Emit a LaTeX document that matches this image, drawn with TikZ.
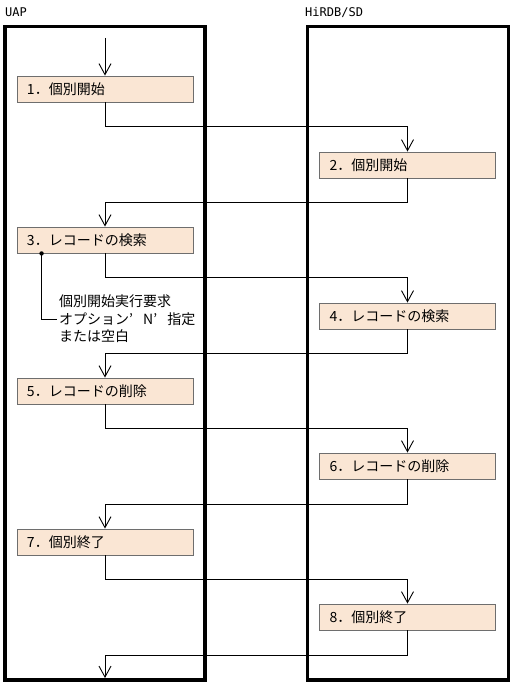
\documentclass[tikz,border=0pt]{standalone}
\usepackage{fontspec}
\newfontfamily\jp{Noto Sans CJK JP}
\newfontfamily\lbl{DejaVu Sans Mono}
\usetikzlibrary{arrows.meta}
\definecolor{boxfill}{RGB}{250,230,212}
\definecolor{boxline}{RGB}{110,110,110}
\newcommand{\wq}{\makebox[14pt][l]{’}}
\begin{document}
\begin{tikzpicture}[x=1pt,y=-1pt,
  panel/.style={draw=black,line width=3.5pt,inner sep=0pt},
  stepbox/.style={draw=boxline,fill=boxfill,line width=0.9pt,minimum width=176pt,minimum height=26pt,inner xsep=10pt,inner ysep=0pt,text width=156pt,align=left,font=\jp\fontsize{14pt}{16pt}\selectfont},
  conn/.style={line width=0.9pt,-{Straight Barb[length=11pt,width=12pt]}},
  plain/.style={line width=0.9pt},
  lab/.style={font=\lbl\fontsize{12pt}{14pt}\selectfont,inner sep=0pt,anchor=west},
  note/.style={font=\jp\fontsize{14pt}{17.5pt}\selectfont,align=left,inner sep=0pt,anchor=west}]
\useasboundingbox (0,0) rectangle (513,685);
\node[lab] (luap) at (5,12) {UAP};
\node[lab] (lsd) at (305,12) {HiRDB/SD};
\node[panel,minimum width=200pt,minimum height=653.5pt] (uap) at (105,353.25) {};
\node[panel,minimum width=201pt,minimum height=653.5pt] (sd) at (408,353.25) {};
\node[stepbox] (b1) at (105,89) {1．個別開始};
\node[stepbox] (b2) at (407.5,165) {2．個別開始};
\node[stepbox] (b3) at (105,240) {3．レコードの検索};
\node[stepbox] (b4) at (407.5,316) {4．レコードの検索};
\node[stepbox] (b5) at (105,391) {5．レコードの削除};
\node[stepbox] (b6) at (407.5,466) {6．レコードの削除};
\node[stepbox] (b7) at (105,542) {7．個別終了};
\node[stepbox] (b8) at (407.5,617) {8．個別終了};
\coordinate (start) at (105,38);
\coordinate (stop) at (105,678);
\draw[conn] (start) -- (b1.north);
\draw[conn] (b1.south) -- ++(0,24) -| (b2.north);
\draw[conn] (b2.south) -- ++(0,23.5) -| (b3.north);
\draw[conn] (b3.south) -- ++(0,24) -| (b4.north);
\draw[conn] (b4.south) -- ++(0,23.5) -| (b5.north);
\draw[conn] (b5.south) -- ++(0,24) -| (b6.north);
\draw[conn] (b6.south) -- ++(0,25) -| (b7.north);
\draw[conn] (b7.south) -- ++(0,24) -| (b8.north);
\draw[conn] (b8.south) -- ++(0,25) -| (stop);
\coordinate (dot) at ([xshift=25pt]b3.south west);
\node[note] (nt) at (59,319) {個別開始実行要求\\オプション\wq N\wq 指定\\または空白};
\fill (dot) circle (2.2pt);
\draw[plain] (dot) |- ([xshift=-2pt]nt.west);
\end{tikzpicture}
\end{document}
